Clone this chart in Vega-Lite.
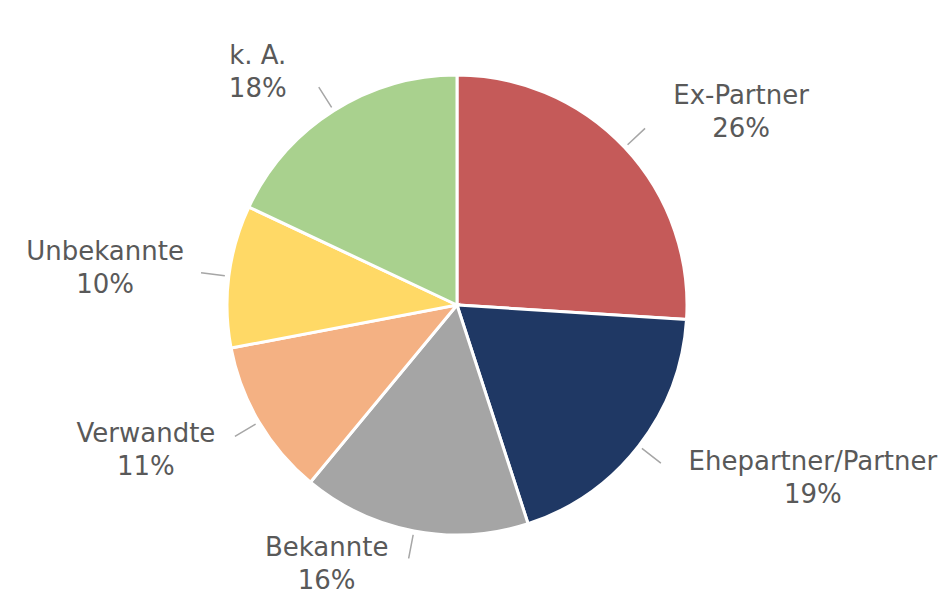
{
  "$schema": "https://vega.github.io/schema/vega-lite/v6.json",
  "autosize": "none",
  "width": 914,
  "height": 578,
  "padding": {"left": 0, "top": 16, "right": 26, "bottom": 0},
  "background": "white",
  "view": {"stroke": null},
  "data": {
    "values": [
      {"name": "Ex-Partner", "value": 26, "order": 1},
      {"name": "Ehepartner/Partner", "value": 19, "order": 2},
      {"name": "Bekannte", "value": 16, "order": 3},
      {"name": "Verwandte", "value": 11, "order": 4},
      {"name": "Unbekannte", "value": 10, "order": 5},
      {"name": "k. A.", "value": 18, "order": 6}
    ]
  },
  "transform": [
    {"stack": "value", "groupby": [], "sort": [{"field": "order", "order": "ascending"}], "as": ["s0", "s1"]},
    {"calculate": "(datum.s0 + datum.s1) / 2", "as": "mid"},
    {"calculate": "datum.mid / 100 * 2 * PI", "as": "ang"},
    {"calculate": "datum.value + '%'", "as": "pct"},
    {"calculate": "datum.name + '\\n' + datum.pct", "as": "label"},
    {"calculate": "max(length(datum.name), length(datum.pct)) * 14", "as": "w"}
  ],
  "layer": [
    {
      "mark": {"type": "arc", "radius": 230, "stroke": "white", "strokeWidth": 3},
      "encoding": {
        "theta": {"field": "s0", "type": "quantitative", "scale": {"domain": [0, 100]}},
        "theta2": {"field": "s1"},
        "color": {
          "field": "name",
          "type": "nominal",
          "scale": {
            "domain": ["Ex-Partner", "Ehepartner/Partner", "Bekannte", "Verwandte", "Unbekannte", "k. A."],
            "range": ["#C55A59", "#1F3864", "#A5A5A5", "#F4B183", "#FFD966", "#A9D18E"]
          },
          "legend": null
        }
      }
    },
    {
      "mark": {"type": "arc", "radius": 258, "radius2": 234, "stroke": "#A6A6A6", "strokeWidth": 1.5, "fillOpacity": 0},
      "encoding": {
        "theta": {"field": "mid", "type": "quantitative", "stack": null, "scale": {"domain": [0, 100]}},
        "theta2": {"field": "mid"}
      }
    },
    {
      "mark": {
        "type": "text",
        "radius": 258,
        "align": "center",
        "baseline": "middle",
        "lineBreak": "\n",
        "lineHeight": 33,
        "font": "DejaVu Sans",
        "fontSize": 26,
        "color": "#595959",
        "dx": {"expr": "(sin(datum.ang) >= 0 ? 1 : -1) * (datum.w / 2 + 26)"},
        "dy": {"expr": "-cos(datum.ang) * 32 * abs(sin(datum.ang)) - 16.5"}
      },
      "encoding": {
        "theta": {"field": "mid", "type": "quantitative", "stack": null, "scale": {"domain": [0, 100]}},
        "text": {"field": "label"}
      }
    }
  ]
}
